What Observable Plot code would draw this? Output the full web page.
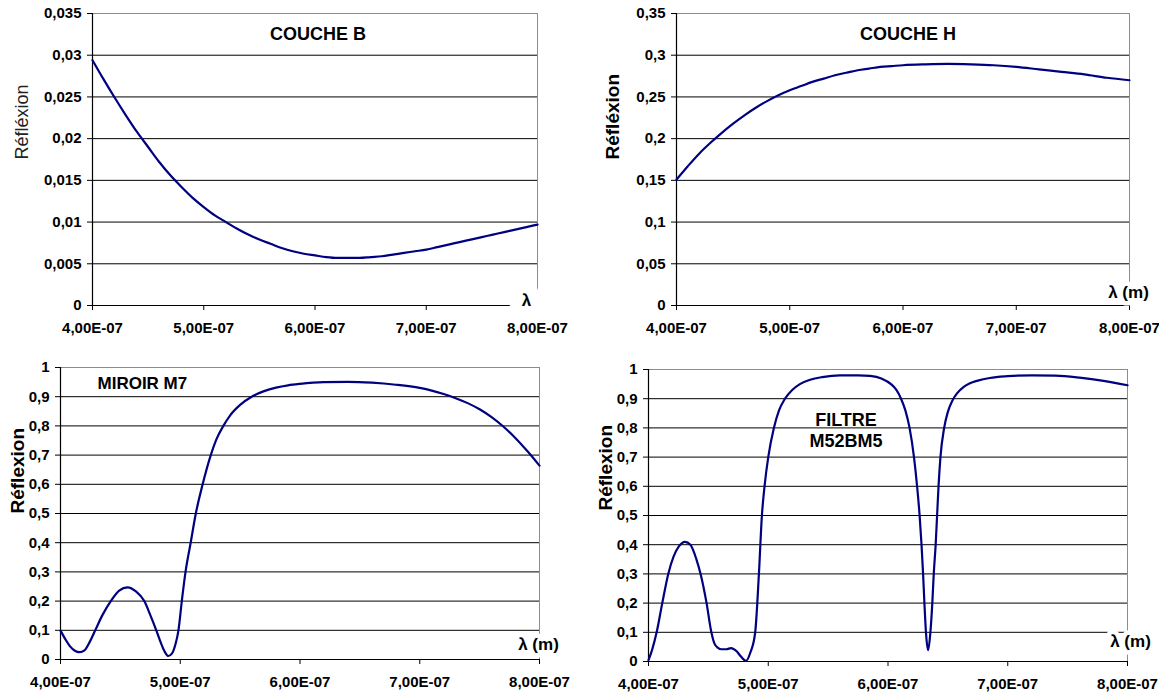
<!DOCTYPE html>
<html><head><meta charset="utf-8">
<script src="https://cdn.jsdelivr.net/npm/d3@7"></script>
<script src="https://cdn.jsdelivr.net/npm/@observablehq/plot@0.6"></script>
<style>
body{margin:0;background:#fff;}
#wrap{position:relative;width:1159px;height:694px;overflow:hidden;background:#fff;}
.panel{position:absolute;}
.panel svg{overflow:visible;max-width:none !important;}
</style></head><body><div id="wrap"></div>
<script>
// ---- shared axis ticks ----
const xTicks = [4e-7, 5e-7, 6e-7, 7e-7, 8e-7];
const xTickLabels = ["4,00E-07", "5,00E-07", "6,00E-07", "7,00E-07", "8,00E-07"];

// ---- COUCHE B ----
const bTicks = [0, 0.005, 0.01, 0.015, 0.02, 0.025, 0.03, 0.035];
const bTickLabels = ["0", "0,005", "0,01", "0,015", "0,02", "0,025", "0,03", "0,035"];
const bNm = [400,410,420,430,440,450,460,470,480,490,500,510,520,530,540,550,560,570,580,590,600,610,620,630,640,650,660,670,680,690,700,710,720,730,740,750,760,770,780,790,800];
const bR  = [0.0294,0.0271,0.0249,0.0228,0.0208,0.0190,0.0172,0.0156,0.0142,0.0129,0.0118,0.0108,0.0100,0.0092,0.0085,0.0079,0.0074,0.0069,0.0065,0.0062,0.0060,0.0058,0.0057,0.0057,0.0057,0.0058,0.0059,0.0061,0.0063,0.0065,0.0067,0.0070,0.0073,0.0076,0.0079,0.0082,0.0085,0.0088,0.0091,0.0094,0.0097];

// ---- COUCHE H ----
const hTicks = [0, 0.05, 0.1, 0.15, 0.2, 0.25, 0.3, 0.35];
const hTickLabels = ["0", "0,05", "0,1", "0,15", "0,2", "0,25", "0,3", "0,35"];
const hNm = [400,410,420,430,440,450,460,470,480,490,500,510,520,530,540,550,560,570,580,590,600,620,640,660,680,700,720,740,760,780,800];
const hR  = [0.151,0.167,0.182,0.195,0.207,0.218,0.228,0.237,0.245,0.252,0.258,0.263,0.268,0.272,0.276,0.279,0.282,0.284,0.286,0.287,0.288,0.289,0.2895,0.289,0.288,0.286,0.283,0.280,0.277,0.273,0.270];

// ---- MIROIR M7 / FILTRE ----
const unitTicks = [0, 0.1, 0.2, 0.3, 0.4, 0.5, 0.6, 0.7, 0.8, 0.9, 1];
const unitTickLabels = ["0", "0,1", "0,2", "0,3", "0,4", "0,5", "0,6", "0,7", "0,8", "0,9", "1"];
const mNm = [400,404,408,412,416,420,424,429,435,442,449,456,463,470,475,480,484,487,490,493,496,498.5,501.3,504.4,508.7,513,518.7,525.5,530,536,542,550,559.6,570,580,590,600,620,640,660,680,700,710,720,730,740,750,760,770,780,790,800];
const mR  = [0.099,0.070,0.045,0.030,0.025,0.031,0.057,0.100,0.152,0.200,0.236,0.247,0.233,0.200,0.152,0.100,0.055,0.027,0.012,0.020,0.052,0.100,0.200,0.300,0.400,0.500,0.600,0.700,0.752,0.800,0.838,0.872,0.900,0.919,0.931,0.939,0.944,0.950,0.951,0.948,0.941,0.930,0.921,0.909,0.895,0.878,0.857,0.830,0.797,0.758,0.713,0.664];

const fNm = [400,403,406.8,411.5,416.5,421,425.5,430.5,435,440,443.5,448.5,452.5,455,458,461,465,469,473.6,477,481.4,485,489.1,492.2,494.7,496.9,500,504.7,509,514,520,526.4,535,545,560,575,585,595,602.5,607,610.9,614.5,618,621.7,624.3,626.4,628,629.3,630.4,631.7,633.5,635.4,637,638.2,639.8,641,642.2,643.8,646.9,650,653.7,658,663,668,675,685,700,720,740,760,780,800];
const fR  = [0.005,0.04,0.10,0.20,0.30,0.36,0.395,0.41,0.40,0.35,0.30,0.20,0.10,0.062,0.047,0.042,0.042,0.046,0.035,0.018,0.002,0.03,0.10,0.30,0.50,0.60,0.70,0.80,0.86,0.90,0.93,0.95,0.965,0.974,0.980,0.980,0.978,0.968,0.950,0.930,0.900,0.860,0.800,0.700,0.600,0.500,0.400,0.300,0.200,0.100,0.039,0.100,0.200,0.300,0.400,0.500,0.600,0.700,0.800,0.855,0.893,0.920,0.940,0.952,0.962,0.971,0.977,0.980,0.979,0.972,0.961,0.946];

const FONT = "'Liberation Sans', Arial, Helvetica, sans-serif";

function panel(cfg) {
  const rows = cfg.nm.map((n, i) => ({x: n * 1e-9, y: cfg.r[i]}));
  const top = cfg.yTicks[cfg.yTicks.length - 1];
  const grid = cfg.yTicks.filter(v => v !== 0 && v !== top);
  const marks = [
    Plot.ruleY(grid, {stroke: "#000", strokeWidth: 1}),
    Plot.ruleY([top], {stroke: "#8c8c8c", strokeWidth: 1}),
    Plot.ruleX([xTicks[xTicks.length - 1]], {stroke: "#8c8c8c", strokeWidth: 1}),
    Plot.ruleX([xTicks[0]], {stroke: "#000", strokeWidth: 1.2}),
    Plot.ruleY([0], {stroke: "#000", strokeWidth: 1.2}),
    Plot.line(rows, {x: "x", y: "y", stroke: "#000080", strokeWidth: 2.2, curve: "monotone-x"}),
    Plot.text([cfg.title], {text: d => d, frameAnchor: cfg.titleAnchor, textAnchor: cfg.titleTextAnchor || "middle",
      lineAnchor: "middle", dx: cfg.titleDx, dy: cfg.titleDy, fontSize: cfg.titleSize || 18, fontWeight: "bold", fill: "#000", lineHeight: 1.2}),
    Plot.text([cfg.yLabel], {text: d => d, frameAnchor: "left", rotate: -90, dx: cfg.yLabelDx, dy: cfg.yLabelDy || 0,
      fontSize: cfg.yLabelSize || 19, fontWeight: cfg.yLabelWeight || "bold", fill: cfg.yLabelFill || "#000", lineAnchor: "middle"}),
    Plot.text([cfg.xLabel], {text: d => d, frameAnchor: "bottom-right", dx: cfg.xLabelDx, dy: cfg.xLabelDy,
      lineAnchor: "middle", textAnchor: "middle", fontSize: 17, fontWeight: "bold", fill: "#000",
      stroke: "white", strokeWidth: cfg.haloWidth || 9, strokeLinejoin: "round", paintOrder: "stroke"})
  ];
  const chart = Plot.plot({
    width: cfg.w, height: cfg.h,
    marginLeft: cfg.ml, marginRight: cfg.mr, marginTop: cfg.mt, marginBottom: cfg.mb,
    style: {fontFamily: FONT, fontSize: "15px", fontWeight: "bold", color: "#000", background: "white", overflow: "visible"},
    x: {domain: [xTicks[0], xTicks[xTicks.length - 1]], ticks: xTicks, tickSize: 5, tickPadding: 12,
        tickFormat: d => xTickLabels[xTicks.indexOf(d)], label: null},
    y: {domain: [0, top], ticks: cfg.yTicks, tickSize: 5, tickPadding: 6,
        tickFormat: d => cfg.yTickLabels[cfg.yTicks.indexOf(d)], label: null},
    marks
  });
  const div = document.createElement("div");
  div.className = "panel";
  div.style.left = cfg.left + "px";
  div.style.top = cfg.topPx + "px";
  div.style.width = cfg.w + "px";
  div.style.height = cfg.h + "px";
  div.appendChild(chart);
  document.getElementById("wrap").appendChild(div);
}

panel({left: 0, topPx: 0, w: 580, h: 340, ml: 92, mr: 43, mt: 13, mb: 35,
  nm: bNm, r: bR, yTicks: bTicks, yTickLabels: bTickLabels,
  title: "COUCHE B", titleAnchor: "top", titleDx: 3, titleDy: 20,
  yLabel: "Réfléxion", yLabelDx: -70, yLabelSize: 18, yLabelWeight: "normal", yLabelFill: "#222",
  xLabel: "λ", xLabelDx: -11, xLabelDy: -5, haloWidth: 24});

panel({left: 580, topPx: 0, w: 579, h: 340, ml: 96, mr: 30, mt: 13, mb: 35,
  nm: hNm, r: hR, yTicks: hTicks, yTickLabels: hTickLabels,
  title: "COUCHE H", titleAnchor: "top", titleDx: 5, titleDy: 20,
  yLabel: "Réfléxion", yLabelDx: -64,
  xLabel: "λ (m)", xLabelDx: -1, xLabelDy: -13});

panel({left: 0, topPx: 340, w: 580, h: 354, ml: 60, mr: 41, mt: 27, mb: 35,
  nm: mNm, r: mR, yTicks: unitTicks, yTickLabels: unitTickLabels,
  title: "MIROIR M7", titleAnchor: "top-left", titleTextAnchor: "start", titleDx: 37, titleDy: 15, titleSize: 17,
  yLabel: "Réflexion", yLabelDx: -43,
  xLabel: "λ (m)", xLabelDx: -1, xLabelDy: -15});

panel({left: 580, topPx: 340, w: 579, h: 354, ml: 68, mr: 32, mt: 29, mb: 33,
  nm: fNm, r: fR, yTicks: unitTicks, yTickLabels: unitTickLabels,
  title: "FILTRE\nM52BM5", titleAnchor: "top", titleDx: -42, titleDy: 60,
  yLabel: "Réflexion", yLabelDx: -43, yLabelDy: -5,
  xLabel: "λ (m)", xLabelDx: 3, xLabelDy: -20});
</script></body></html>
